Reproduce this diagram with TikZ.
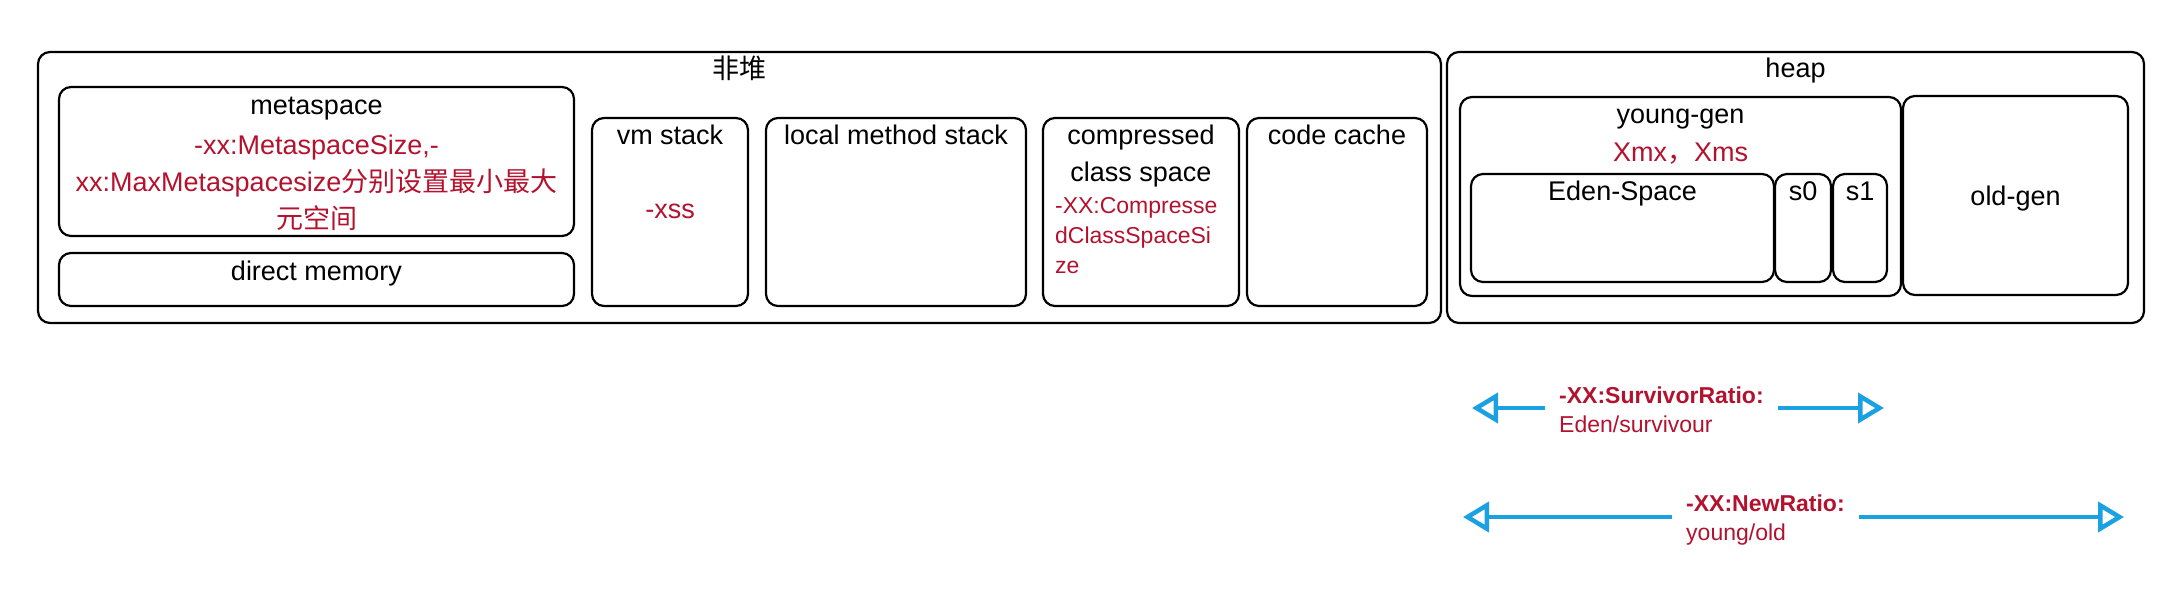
\documentclass[tikz,border=0pt]{standalone}
\usepackage{fontspec}
\setmainfont{Liberation Sans}
\newfontfamily\cjk{Noto Sans CJK SC}
\usetikzlibrary{arrows.meta}
\definecolor{optred}{HTML}{B3122E}
\definecolor{ratioblue}{HTML}{1BA1E2}
\begin{document}
\begin{tikzpicture}[x=1pt, y=-1pt,
                    every node/.style={inner sep=0pt},
                    area/.style={draw, line width=2.2pt, rounded corners=12pt},
                    lbl/.style={font=\fontsize{27}{36}\selectfont, anchor=base, align=center},
                    optlbl/.style={lbl, text=optred},
                    ratiolbl/.style={font=\fontsize{23}{29}\selectfont, text=optred, align=left,
                                     anchor=base west, inner xsep=14pt},
                    ratioarrow/.style={ratioblue, line width=4.5pt,
                                       -{Triangle[open, length=26pt, width=30pt]}}]
  \useasboundingbox (0,0) rectangle (2178,592);
  \node[area, minimum width=1403pt, minimum height=271pt] (nonheap) at (739.5,187.5) {};
  \node[area, minimum width=515pt, minimum height=149pt] (meta) at (316.5,161.5) {};
  \node[area, minimum width=515pt, minimum height=53pt] (direct) at (316.5,279.5) {};
  \node[area, minimum width=156pt, minimum height=188pt] (vmstack) at (670,212) {};
  \node[area, minimum width=260pt, minimum height=188pt] (localstack) at (896,212) {};
  \node[area, minimum width=196pt, minimum height=188pt] (ccs) at (1141,212) {};
  \node[area, minimum width=180pt, minimum height=188pt] (codecache) at (1337,212) {};
  \node[area, minimum width=697pt, minimum height=271pt] (heap) at (1795.5,187.5) {};
  \node[area, minimum width=441pt, minimum height=199pt] (young) at (1680.5,196.5) {};
  \node[area, minimum width=303pt, minimum height=108pt] (eden) at (1622.5,228) {};
  \node[area, minimum width=56pt, minimum height=108pt] (szero) at (1803,228) {};
  \node[area, minimum width=54pt, minimum height=108pt] (sone) at (1860,228) {};
  \node[area, minimum width=225pt, minimum height=199pt] (old) at (2015.5,195.5) {};

  \node[lbl] (nonheaptxt) at ([yshift=-28pt]nonheap.north) {\cjk 非堆};
  \node[lbl] (metatxt) at ([yshift=-29pt]meta.north) {metaspace};
  \node[optlbl, font=\fontsize{27}{37}\selectfont] (metaopt) at ([yshift=-143pt]meta.north)
    {-xx:MetaspaceSize,-\\xx:MaxMetaspacesize{\cjk 分别设置最小最大}\\{\cjk 元空间}};
  \node[lbl] (directtxt) at ([yshift=-29pt]direct.north) {direct memory};
  \node[lbl] (vmtxt) at ([yshift=-28pt]vmstack.north) {vm stack};
  \node[optlbl] (vmopt) at ([yshift=-102pt]vmstack.north) {-xss};
  \node[lbl] (localtxt) at ([yshift=-28pt]localstack.north) {local method stack};
  \node[lbl, font=\fontsize{27}{37}\selectfont] (ccstxt) at ([yshift=-65pt]ccs.north) {compressed\\class space};
  \node[ratiolbl, inner xsep=0pt, font=\fontsize{23}{30}\selectfont] (ccsopt)
    at ([xshift=13pt, yshift=-157pt]ccs.north west) {-XX:Compresse\\dClassSpaceSi\\ze};
  \node[lbl] (codecachetxt) at ([yshift=-28pt]codecache.north) {code cache};
  \node[lbl] (heaptxt) at ([yshift=-27pt]heap.north) {heap};
  \node[lbl] (youngtxt) at ([yshift=-28pt]young.north) {young-gen};
  \node[optlbl] (youngopt) at ([yshift=-66pt]young.north) {Xmx{\cjk ，}Xms};
  \node[lbl] (edentxt) at ([yshift=-28pt]eden.north) {Eden-Space};
  \node[lbl] (szerotxt) at ([yshift=-28pt]szero.north) {s0};
  \node[lbl] (sonetxt) at ([yshift=-28pt]sone.north) {s1};
  \node[lbl] (oldtxt) at ([yshift=-9.5pt]old.center) {old-gen};

  \node[ratiolbl] (srlbl) at (1545,432) {\textbf{-XX:SurvivorRatio:}\\Eden/survivour};
  \coordinate (srleft) at (1472,408);
  \coordinate (srright) at (1884,408);
  \draw[ratioarrow] (srlbl.west |- srleft) -- (srleft);
  \draw[ratioarrow] (srlbl.east |- srright) -- (srright);
  \node[ratiolbl] (nrlbl) at (1672,540) {\textbf{-XX:NewRatio:}\\young/old};
  \coordinate (nrleft) at (1463,517);
  \coordinate (nrright) at (2124,517);
  \draw[ratioarrow] (nrlbl.west |- nrleft) -- (nrleft);
  \draw[ratioarrow] (nrlbl.east |- nrright) -- (nrright);
\end{tikzpicture}
\end{document}
